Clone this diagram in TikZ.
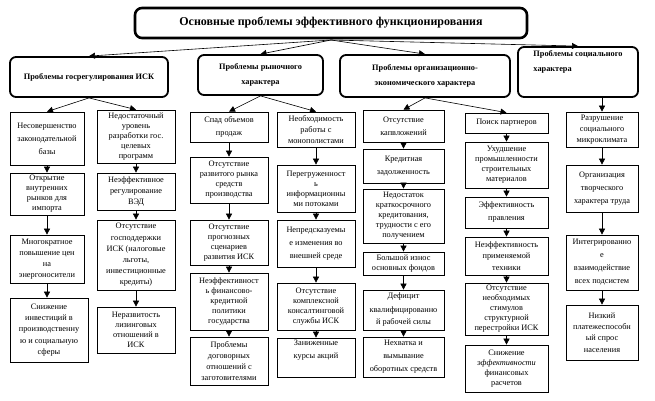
\documentclass[tikz,border=0pt]{standalone}
\usepackage{fontspec}
\setmainfont{Liberation Serif}
\usetikzlibrary{arrows.meta}
\newcommand{\cbox}[7][box]{\node[#1, minimum width={(#5)-(#3)}, minimum height={(#6)-(#4)}] (#2) at ({((#3)+(#5))/2},{((#4)+(#6))/2}) {#7};}
\begin{document}
\begin{tikzpicture}[x=1pt,y=-1pt,
  box/.style={draw, line width=0.7pt, align=center, inner sep=0.3pt, font=\fontsize{8.3}{10}\selectfont},
  boxm/.style={box, font=\fontsize{8.3}{11.2}\selectfont},
  boxl/.style={box, font=\fontsize{8.3}{13}\selectfont},
  topbox/.style={draw, line width=1.8pt, rounded corners=6pt, align=center, inner sep=2pt, font=\bfseries\fontsize{8.3}{15}\selectfont},
  titlebox/.style={draw, line width=2.6pt, rounded corners=7pt, align=center, font=\bfseries\fontsize{12}{14}\selectfont},
  arr/.style={line width=0.6pt, -{Triangle[width=6pt,length=6pt]}}]
\useasboundingbox (0,0) rectangle (655,401);
% title
\cbox[titlebox]{T}{135}{8}{527}{38}{Основные проблемы эффективного функционирования}
\coordinate (t) at (331,40);
% level 1
\cbox[topbox]{A}{10}{57}{168}{97}{Проблемы госрегулирования ИСК}
\cbox[topbox]{B}{198}{55}{323}{95}{Проблемы рыночного\\характера}
\cbox[topbox]{C}{340}{55}{510}{97}{Проблемы организационно-\\экономического характера}
\cbox[topbox,align=left]{D}{518}{47}{638}{97}{Проблемы социального\\характера\\[6pt]}
\draw[arr] (t) -- (A.north);
\draw[arr] (t) -- (B.north);
\draw[arr] (t) -- (C.north);
\draw[arr] (t) -- (D.north);
% column 1
\cbox[boxl]{c1a}{10}{112}{84}{165}{Несовершенство\\законодательной\\базы}
\cbox{c1b}{10}{173}{84}{215}{Открытие\\внутренних\\рынков для\\импорта}
\cbox[boxm]{c1c}{10}{235}{84}{283}{Многократное\\повышение цен\\на\\энергоносители}
\cbox[boxm]{c1d}{10}{298}{88}{362}{Снижение\\инвестиций в\\производственну\\ю и социальную\\сферы}
% column 2
\cbox{c2a}{97}{110}{175}{163}{Недостаточный\\уровень\\разработки гос.\\целевых\\программ}
\cbox[boxm]{c2b}{97}{173}{175}{210}{Неэффективное\\регулирование\\ВЭД}
\cbox[boxm]{c2c}{97}{220}{175}{290}{Отсутствие\\господдержки\\ИСК (налоговые\\льготы,\\инвестиционные\\кредиты)}
\cbox{c2d}{97}{307}{175}{353}{Неразвитость\\лизинговых\\отношений в\\ИСК}
% column 3
\cbox[boxl]{c3a}{190}{112}{268}{142}{Спад объемов\\продаж}
\cbox{c3b}{190}{157}{268}{203}{Отсутствие\\развитого рынка\\средств\\производства}
\cbox{c3c}{190}{220}{268}{265}{Отсутствие\\прогнозных\\сценариев\\развития ИСК}
\cbox{c3d}{190}{273}{268}{330}{Неэффективност\\ь финансово-\\кредитной\\политики\\государства}
\cbox[boxm]{c3e}{190}{337}{268}{385}{Проблемы\\договорных\\отношений с\\заготовителями}
% column 4
\cbox[boxm]{c4a}{277}{112}{355}{147}{Необходимость\\работы с\\монополистами}
\cbox{c4b}{277}{165}{355}{212}{Перегруженност\\ь\\информационны\\ми потоками}
\cbox[boxl]{c4c}{277}{220}{355}{267}{Непредсказуемы\\е изменения во\\внешней среде}
\cbox{c4d}{277}{283}{355}{330}{Отсутствие\\комплексной\\консалтинговой\\службы ИСК}
\cbox[boxl]{c4e}{277}{338}{355}{377}{Заниженные\\курсы акций\\[4pt]}
% column 5
\cbox[boxl]{c5a}{363}{110}{444}{142}{Отсутствие\\капвложений}
\cbox[boxl]{c5b}{363}{149}{444}{183}{Кредитная\\задолженность}
\cbox{c5c}{363}{189}{444}{243}{Недостаток\\краткосрочного\\кредитования,\\трудности с его\\получением}
\cbox{c5d}{363}{252}{444}{275}{Большой износ\\основных фондов}
\cbox[boxl]{c5e}{363}{290}{444}{330}{Дефицит\\квалифицированно\\й рабочей силы}
\cbox[boxl]{c5f}{363}{337}{444}{377}{Нехватка и\\вымывание\\оборотных средств}
% column 6
\cbox{c6a}{465}{113}{548}{133}{Поиск партнеров}
\cbox{c6b}{465}{142}{548}{188}{Ухудшение\\промышленности\\строительных\\материалов}
\cbox[boxl]{c6c}{465}{197}{548}{228}{Эффективность\\правления}
\cbox[boxm]{c6d}{465}{237}{548}{275}{Неэффективность\\применяемой\\техники}
\cbox{c6e}{465}{283}{548}{335}{Отсутствие\\необходимых\\стимулов\\структурной\\перестройки ИСК}
\cbox{c6f}{465}{345}{548}{392}{Снижение\\\textit{эффективности}\\финансовых\\расчетов}
% column 7
\cbox[boxm]{c7a}{566}{112}{638}{147}{Разрушение\\социального\\микроклимата}
\cbox[boxl]{c7b}{566}{165}{638}{212}{Организация\\творческого\\характера труда}
\cbox[boxl]{c7c}{566}{235}{638}{290}{Интегрированно\\е\\взаимодействие\\всех подсистем}
\cbox[boxm]{c7d}{566}{305}{638}{360}{Низкий\\платежеспособн\\ый спрос\\населения}
% level 1 -> level 2
\draw[arr] (A.south) -- (c1a.north);
\draw[arr] (A.south) -- (c2a.north);
\draw[arr] (B.south) -- (c3a.north);
\draw[arr] (B.south) -- (c4a.north);
\draw[arr] (C.south) -- (c5a.north);
\draw[arr] (C.south) -- (c6a.north);
\draw[arr] (c7a.north |- D.south) -- (c7a.north);
% chains
\foreach \c/\n in {c1a/c1b,c1b/c1c,c1c/c1d,c2a/c2b,c2b/c2c,c2c/c2d,
  c3a/c3b,c3b/c3c,c3c/c3d,c3d/c3e,c4a/c4b,c4b/c4c,c4c/c4d,c4d/c4e,
  c5a/c5b,c5b/c5c,c5c/c5d,c5d/c5e,c5e/c5f,c6a/c6b,c6b/c6c,c6c/c6d,c6d/c6e,c6e/c6f,
  c7a/c7b,c7b/c7c,c7c/c7d}
  \draw[arr] (\c.south) -- (\c.south |- \n.north);
\end{tikzpicture}
\end{document}
